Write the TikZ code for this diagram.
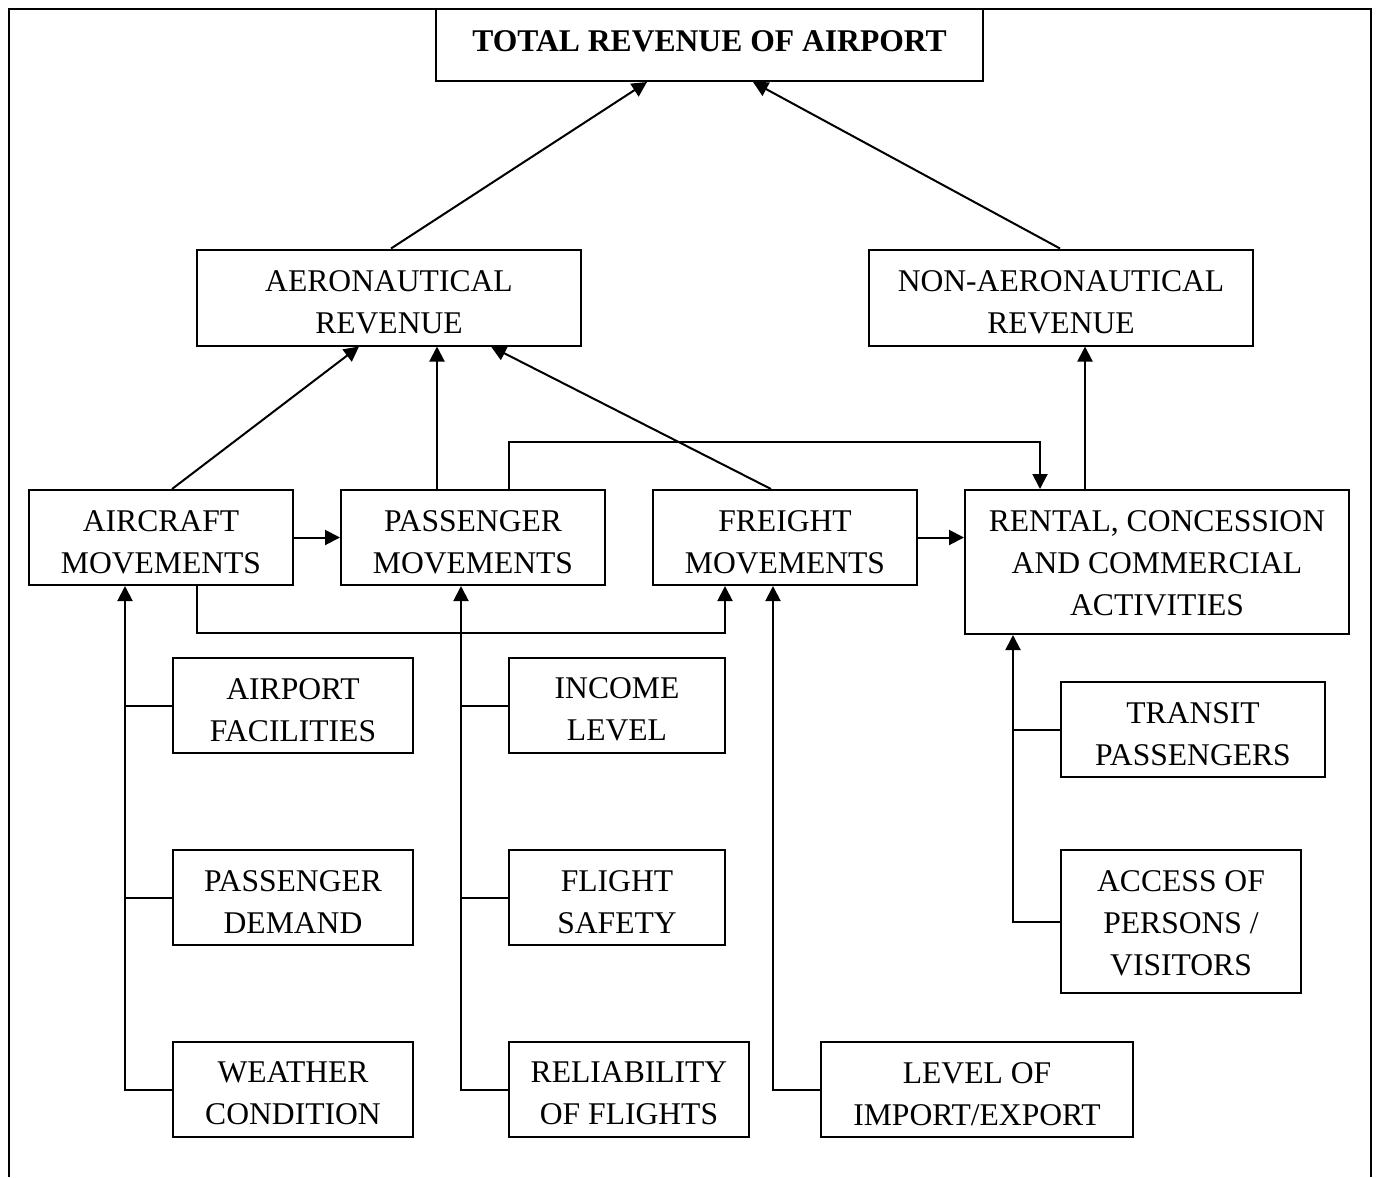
\documentclass[tikz,border=0pt]{standalone}
\usepackage{fontspec}
\setmainfont{Liberation Serif}
\usetikzlibrary{arrows.meta}
% box with its text: name, cx, cy, width(pt), height(pt), text shift(pt), text
\newcommand\flowbox[7]{%
  \node[box, minimum width=#4pt, minimum height=#5pt] (#1) at (#2,#3) {};
  \node[txt, yshift=-#6pt] (#1-text) at (#1.center) {#7};}
\begin{document}
\begin{tikzpicture}[x=0.5pt,y=-0.5pt,
  box/.style={draw, line width=1pt, inner sep=0pt},
  txt/.style={align=center, inner sep=0pt,
    font=\fontsize{15.8}{21}\selectfont},
  titlebox/.style={draw, line width=1pt, inner sep=0pt,
    font=\fontsize{15.8}{21}\selectfont\bfseries},
  conn/.style={line width=1pt},
  arr/.style={conn, -{Triangle[length=7.5pt,width=7.5pt]}}]
\useasboundingbox (0,0) rectangle (1380,1177);
% outer frame (open at the bottom)
\draw[line width=1pt] (9,1177) -- (9,9) -- (1371,9) -- (1371,1177);

% nodes
\node[titlebox, minimum width=273.5pt, minimum height=36pt, text depth=4pt] (total) at (709.5,45) {TOTAL REVENUE OF AIRPORT};
\flowbox{aero}{389}{297.5}{192}{48}{2.3}{AERONAUTICAL\\REVENUE}
\flowbox{nonaero}{1061}{297.5}{192}{48}{2.3}{NON-AERONAUTICAL\\REVENUE}
\flowbox{aircraft}{161}{537.5}{132}{47.5}{2.3}{AIRCRAFT\\MOVEMENTS}
\flowbox{pass}{473}{537.5}{132}{47.5}{2.3}{PASSENGER\\MOVEMENTS}
\flowbox{freight}{785}{537.5}{132}{47.5}{2.3}{FREIGHT\\MOVEMENTS}
\flowbox{rental}{1157}{562}{192}{72}{0.5}{RENTAL, CONCESSION\\AND COMMERCIAL\\ACTIVITIES}
\flowbox{facil}{293}{705.5}{120}{47.5}{2.1}{AIRPORT\\FACILITIES}
\flowbox{demand}{293}{897.5}{120}{47.5}{2.1}{PASSENGER\\DEMAND}
\flowbox{weather}{293}{1089.5}{120}{47.5}{2.1}{WEATHER\\CONDITION}
\flowbox{income}{617}{705.5}{108}{47.5}{2.1}{INCOME\\LEVEL}
\flowbox{safety}{617}{897.5}{108}{47.5}{2.1}{FLIGHT\\SAFETY}
\flowbox{reliab}{629}{1089.5}{120}{47.5}{2.1}{RELIABILITY\\OF FLIGHTS}
\flowbox{level}{977}{1089.5}{156}{47.5}{2.1}{LEVEL OF\\IMPORT/EXPORT}
\flowbox{transit}{1193}{729.5}{132}{47.5}{2.1}{TRANSIT\\PASSENGERS}
\flowbox{access}{1181}{921.5}{120}{71.5}{0.7}{ACCESS OF\\PERSONS /\\VISITORS}

% upper connectors
\draw[arr] (391,0 |- aero.north) -- (647,0 |- total.south);
\draw[arr] (1060,0 |- nonaero.north) -- (753,0 |- total.south);
\draw[arr] (172,0 |- aircraft.north) -- (359,0 |- aero.south);
\draw[arr] (437,0 |- pass.north) -- (437,0 |- aero.south);
\draw[arr] (771,0 |- freight.north) -- (491,0 |- aero.south);
\draw[arr] (509,0 |- pass.north) -- (509,442) -- (1040,442) -- (1040,0 |- rental.north);
\draw[arr] (1085,0 |- rental.north) -- (1085,0 |- nonaero.south);

% middle row connectors
\draw[arr] (aircraft.east) -- (pass.west);
\draw[arr] (freight.east) -- (rental.west |- freight.east);
\draw[arr] (197,0 |- aircraft.south) -- (197,633) -- (725,633) -- (725,0 |- freight.south);

% factor trees
\draw[arr] (weather.west) -- (125,0 |- weather.west) -- (125,0 |- aircraft.south);
\draw[conn] (facil.west) -- (125,0 |- facil.west);
\draw[conn] (demand.west) -- (125,0 |- demand.west);

\draw[arr] (reliab.west) -- (461,0 |- reliab.west) -- (461,0 |- pass.south);
\draw[conn] (income.west) -- (461,0 |- income.west);
\draw[conn] (safety.west) -- (461,0 |- safety.west);

\draw[arr] (level.west) -- (773,0 |- level.west) -- (773,0 |- freight.south);

\draw[arr] (access.west) -- (1013,0 |- access.west) -- (1013,0 |- rental.south);
\draw[conn] (transit.west) -- (1013,0 |- transit.west);
\end{tikzpicture}
\end{document}
